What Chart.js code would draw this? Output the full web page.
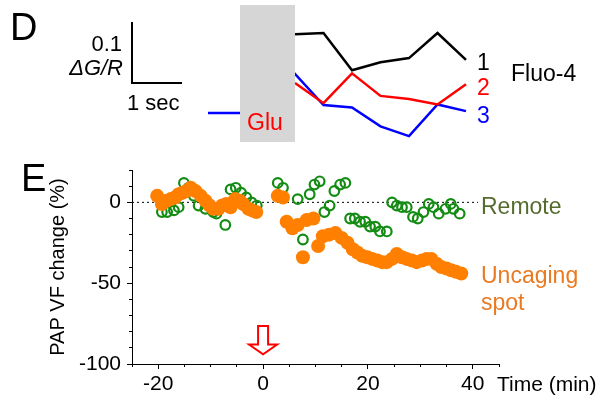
<!DOCTYPE html>
<html>
<head>
<meta charset="utf-8">
<script src="https://cdn.jsdelivr.net/npm/chart.js@4.4.1/dist/chart.umd.min.js"></script>
<style>
  body { margin: 0; background: #fff; }
  #wrap { position: relative; width: 606px; height: 403px; }
  canvas { position: absolute; left: 0; top: 0; }
</style>
</head>
<body>
<div id="wrap">
  <canvas id="chartE" width="606" height="403"></canvas>
  <canvas id="chartD" width="606" height="150"></canvas>
</div>
<script>
var FONT = '"Liberation Sans", Arial, sans-serif';

// panel D: Fluo-4 traces (time in sec, dG/R)
var traceT = [5.90, 6.47, 7.04, 7.61, 8.18, 8.75, 9.32];
var trace1 = [0.129, 0.131, 0.070, 0.083, 0.090, 0.131, 0.087];
var trace2 = [0.049, 0.016, 0.065, 0.028, 0.023, 0.014, 0.047];
var trace3 = [0.064, 0.013, 0.009, -0.022, -0.038, 0.014, 0.003];
var baseT = [4.16, 4.73, 5.30];
var base3 = [0, 0, 0];
var gluStart = 4.80, gluEnd = 5.90;
var barX = [2.64, 2.64, 3.64];
var barY = [0.149, 0.049, 0.049];

// panel E: PAP volume fraction change (%)
var uncagingX = [-20.2, -19.3, -18.4, -17.6, -16.8, -16.1, -15.3, -14.6, -13.8, -12.9, -11.9, -11.0, -10.2, -9.5, -8.5, -7.8, -7.0, -6.2, -5.3, -4.5, -3.8, -2.8, -2.1, -1.3,
  2.8, 3.8, 4.5, 5.6, 6.6, 7.6, 8.3, 9.6, 10.5, 11.4, 12.6, 13.8, 15.0, 16.1, 17.1, 18.0, 18.9, 19.9, 20.8, 21.8, 22.7, 23.6, 24.6, 25.5, 26.5, 27.4, 28.4, 29.3, 30.3, 31.2, 32.1, 33.1, 34.0, 35.0, 35.9, 36.8, 37.8];
var uncagingY = [4, -1, 1, 2, 3, 5, 6, 7, 9, 7, 4, 1, -2, -4, -4, -2, -1, -3, 2, 1, -1, -4, -5, -6,
  4, 3, -12, -16, -14, -34, -11, -10, -27, -21, -20, -19, -22, -25, -29, -31, -33, -34, -35, -36, -37, -37, -35, -32, -34, -35, -36, -37, -36, -35, -35, -38, -40, -41, -42, -43, -44];
var remoteX = [-19.3, -18.3, -17.0, -16.1, -15.1, -14.2, -13.2, -12.3, -11.0, -9.5, -8.9, -7.2, -6.2, -5.2, -4.2, -3.2, -2.2, -1.2,
  2.8, 3.8, 6.6, 7.6, 8.9, 9.8, 10.8, 11.7, 12.7, 13.6, 14.7, 15.7, 16.6, 17.5, 18.5, 19.5, 20.4, 21.4, 22.3, 23.6, 24.6, 25.5, 26.5, 27.4, 28.6, 29.5, 30.6, 31.6, 32.5, 33.5, 34.8, 35.8, 36.3, 37.5];
var remoteY = [-6, -6, -5, -3, 12, 9, 4, -2, -4, -6, -7, -14, 8, 9, 6, 3, 0, -2,
  12, 9, 2, -23, 5, 11, 13, -6, -2, 7, 11, 12, -10, -10, -12, -12, -15, -15, -18, -18, 0, -2, -3, -3, -9, -10, -6, -1, -3, -7, -4, -1, -4, -7];
var zeroX = [-25, 41];
var xMajor = [-20, 0, 20, 40];
var yMajor = [-100, -50, 0];
var arrowX = 0, arrowTop = -76.5, arrowNeck = -88, arrowTip = -94;

function pts(xs, ys) {
    var out = [];
    for (var i = 0; i < xs.length; i++) out.push({ x: xs[i], y: ys[i] });
    return out;
}

function fixedTicks(values) {
    return function (s) {
        s.ticks = values.map(function (v) { return { value: v }; });
    };
}

// ---------- panel D ----------
var panelD = {
    id: 'panelD',
    afterDatasetsDraw: function (chart) {
        var c = chart.ctx, xs = chart.scales.x, ys = chart.scales.y;
        var x0 = xs.getPixelForValue(gluStart), x1 = xs.getPixelForValue(gluEnd);
        var y0 = ys.getPixelForValue(0.177), y1 = ys.getPixelForValue(-0.0475);
        c.save();
        c.fillStyle = '#d6d6d6';
        c.fillRect(x0, y0, x1 - x0, y1 - y0);
        c.textBaseline = 'middle';
        c.font = '23px ' + FONT;
        c.fillStyle = '#ff0000';
        c.fillText('Glu', x0 + 7, 124);
        c.fillStyle = '#000';
        c.font = '38px ' + FONT;
        c.fillText('D', 10, 30);
        c.font = '22px ' + FONT;
        c.textAlign = 'right';
        c.fillText('0.1', 122, 45);
        c.font = 'italic 22px ' + FONT;
        c.fillText('\u0394G/R', 123, 69);
        c.textAlign = 'left';
        c.font = '22px ' + FONT;
        c.fillText('1 sec', 127, 104);
        c.font = '23px ' + FONT;
        c.fillText('1', 477, 64);
        c.fillStyle = '#ff0000';
        c.fillText('2', 477, 89);
        c.fillStyle = '#0000ff';
        c.fillText('3', 477, 117);
        c.fillStyle = '#000';
        c.fillText('Fluo-4', 511, 75);
        c.restore();
    }
};

var lineStyle = { pointRadius: 0, borderWidth: 2.5, tension: 0, fill: false };

new Chart(document.getElementById('chartD'), {
    type: 'line',
    data: {
        datasets: [
            Object.assign({ data: pts(traceT, trace1), borderColor: '#000' }, lineStyle),
            Object.assign({ data: pts(traceT, trace2), borderColor: '#ff0000' }, lineStyle),
            Object.assign({ data: pts(baseT.concat(traceT), base3.concat(trace3)), borderColor: '#0000ff' }, lineStyle),
            { data: pts(barX, barY), borderColor: '#000', borderWidth: 2, pointRadius: 0, fill: false }
        ]
    },
    options: {
        responsive: false,
        devicePixelRatio: 1,
        animation: false,
        layout: { padding: 0 },
        plugins: { legend: { display: false }, tooltip: { enabled: false } },
        scales: {
            x: { type: 'linear', display: false, min: 0, max: 12.12 },
            y: { type: 'linear', display: false, min: -0.0607, max: 0.1852 }
        }
    },
    plugins: [panelD]
});

// ---------- panel E ----------
var panelE = {
    id: 'panelE',
    afterDraw: function (chart) {
        var c = chart.ctx, xs = chart.scales.x, ys = chart.scales.y;
        c.save();
        c.textBaseline = 'middle';
        c.fillStyle = '#000';
        c.font = '38px ' + FONT;
        c.fillText('E', 21, 181);
        c.font = '21px ' + FONT;
        c.fillText('Time (min)', 497, 385);
        c.font = '23px ' + FONT;
        c.fillStyle = '#556b2f';
        c.fillText('Remote', 481, 208);
        c.fillStyle = '#ea7a22';
        c.fillText('Uncaging', 481, 277);
        c.fillText('spot', 481, 304);

        var ax = xs.getPixelForValue(arrowX);
        var yt = ys.getPixelForValue(arrowTop), yn = ys.getPixelForValue(arrowNeck), yp = ys.getPixelForValue(arrowTip);
        c.beginPath();
        c.moveTo(ax - 5, yt);
        c.lineTo(ax + 5, yt);
        c.lineTo(ax + 5, yn);
        c.lineTo(ax + 14, yn);
        c.lineTo(ax, yp);
        c.lineTo(ax - 14, yn);
        c.lineTo(ax - 5, yn);
        c.closePath();
        c.fillStyle = '#fff';
        c.fill();
        c.strokeStyle = '#ff0000';
        c.lineWidth = 2;
        c.stroke();
        c.restore();
    }
};

var tickFont = { size: 21, family: FONT };

new Chart(document.getElementById('chartE'), {
    type: 'scatter',
    data: {
        datasets: [
            { label: 'Uncaging spot', data: pts(uncagingX, uncagingY), pointRadius: 7, borderWidth: 0, backgroundColor: '#ff8000', borderColor: '#ff8000' },
            { label: 'Remote', data: pts(remoteX, remoteY), pointRadius: 4.8, borderWidth: 2.2, backgroundColor: 'rgba(0,0,0,0)', borderColor: '#148c14' },
            { type: 'line', data: pts(zeroX, [0, 0]), borderColor: '#000', borderWidth: 1, borderDash: [2, 3], pointRadius: 0, clip: false }
        ]
    },
    options: {
        responsive: false,
        devicePixelRatio: 1,
        animation: false,
        layout: { padding: { top: 170, right: 107, left: 0, bottom: 0 } },
        plugins: { legend: { display: false }, tooltip: { enabled: false } },
        scales: {
            x: {
                type: 'linear', min: -25, max: 45,
                grid: { drawOnChartArea: false, tickLength: 5, color: '#000' },
                border: { color: '#000', width: 1 },
                ticks: {
                    autoSkip: false, maxRotation: 0, padding: 3,
                    color: '#000', font: tickFont,
                    callback: function (v) { return String(v); }
                },
                afterBuildTicks: fixedTicks(xMajor),
                afterFit: function (s) { s.height = 39; }
            },
            xMinor: {
                type: 'linear', min: -25, max: 45, position: { y: -100 },
                grid: { drawOnChartArea: false, tickLength: 3, color: '#000' },
                border: { display: false },
                ticks: { stepSize: 5, autoSkip: false, display: false }
            },
            y: {
                type: 'linear', min: -100, max: 20,
                grid: { drawOnChartArea: false, tickLength: 5, color: '#000' },
                border: { color: '#000', width: 1 },
                ticks: {
                    autoSkip: false, padding: 6,
                    color: '#000', font: tickFont,
                    callback: function (v) { return String(v); }
                },
                afterBuildTicks: fixedTicks(yMajor),
                title: {
                    display: true, text: 'PAP VF change (%)', color: '#000',
                    font: { size: 20, family: FONT }, padding: { top: 46 }
                },
                afterFit: function (s) { s.width = 132; }
            },
            yMinor: {
                type: 'linear', min: -100, max: 20, position: { x: -25 },
                grid: { drawOnChartArea: false, tickLength: 3, color: '#000' },
                border: { display: false },
                ticks: { stepSize: 10, autoSkip: false, display: false }
            }
        }
    },
    plugins: [panelE]
});
</script>
</body>
</html>
